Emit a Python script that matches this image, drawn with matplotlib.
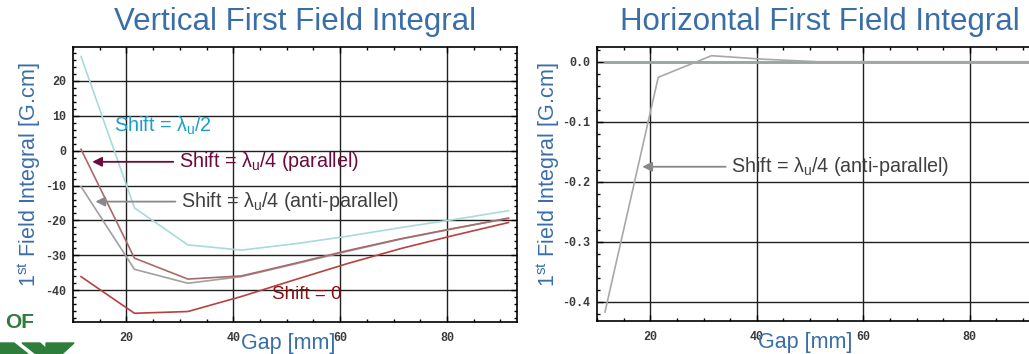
import matplotlib
matplotlib.use("Agg")
import matplotlib.pyplot as plt
from matplotlib import font_manager
from matplotlib.ticker import MultipleLocator, FormatStrFormatter
from matplotlib.patches import Polygon

# gap values [mm]
gap = [11.5, 21.5, 31.5, 41.5, 51.5, 61.5, 71.5, 81.5, 91.5]

# vertical first field integral [G.cm]
v_half = [27.0, -16.4, -27.0, -28.5, -26.7, -24.5, -22.0, -19.7, -17.2]
v_parallel = [0.4, -30.8, -36.8, -35.9, -32.3, -28.6, -25.2, -22.2, -19.4]
v_anti = [-10.3, -34.0, -38.0, -36.1, -32.5, -28.8, -25.3, -22.3, -19.3]
v_zero = [-36.1, -46.6, -46.1, -41.8, -37.0, -32.3, -28.0, -24.2, -20.6]

# horizontal first field integral [G.cm]
h_anti = [-0.417, -0.026, 0.010, 0.004, 0.0, 0.0, 0.0, 0.0, 0.0]
h_others = [0.0, 0.0, 0.0, 0.0, 0.0, 0.0, 0.0, 0.0, 0.0]

installed = {f.name for f in font_manager.fontManager.ttflist}
narrow = "Liberation Sans Narrow" if "Liberation Sans Narrow" in installed else "Liberation Sans"
mono = "Liberation Mono" if "Liberation Mono" in installed else "DejaVu Sans Mono"

plt.rcParams["font.family"] = [narrow, "DejaVu Sans"]
plt.rcParams["mathtext.fontset"] = "custom"
plt.rcParams["mathtext.rm"] = narrow
plt.rcParams["axes.unicode_minus"] = False

blue = "#3a6ea8"
c_half, t_half = "#a8dada", "#1a9ed0"
c_par, t_par = "#a86a6a", "#6b0a3c"
c_anti, t_anti = "#a0a0a0", "#404040"
c_zero, t_zero = "#b84040", "#8b0d0d"
lab_size = 15.5
note_size = 14.2

fig = plt.figure(figsize=(10.29, 3.54), dpi=100)
ax1 = fig.add_axes([73 / 1029, 32 / 354, 444 / 1029, 275 / 354])
ax2 = fig.add_axes([597 / 1029, 33 / 354, 442 / 1029, 274 / 354])


def style(ax, xlab_x):
    ax.set_axisbelow(True)
    ax.grid(True, which="major", color="#202020", lw=1.0)
    ax.xaxis.set_major_locator(MultipleLocator(20))
    ax.xaxis.set_minor_locator(MultipleLocator(5))
    ax.tick_params(which="both", direction="in", top=True, right=True,
                   labelsize=8.5, labelcolor="#3a3a3a")
    ax.tick_params(axis="x", pad=7)
    ax.tick_params(axis="y", pad=5)
    ax.tick_params(which="major", length=4, width=1)
    ax.tick_params(which="minor", length=2.5, width=1)
    for lab in ax.get_xticklabels() + ax.get_yticklabels():
        lab.set_family(mono)
        lab.set_fontweight("bold")
    for s in ax.spines.values():
        s.set_color("black")
        s.set_linewidth(1.2)
    ax.set_xlabel("Gap [mm]", fontsize=lab_size, color=blue)
    ax.xaxis.set_label_coords(xlab_x, -0.04)
    ax.set_ylabel("1$^{\\mathregular{st}}$ Field Integral [G.cm]", fontsize=lab_size, color=blue)


# left: vertical
ax1.plot(gap, v_half, color=c_half, lw=1.2)
ax1.plot(gap, v_anti, color=c_anti, lw=1.2)
ax1.plot(gap, v_parallel, color=c_par, lw=1.2)
ax1.plot(gap, v_zero, color=c_zero, lw=1.2)
ax1.set_xlim(10, 93.1)
ax1.set_ylim(-49.1, 29.7)
ax1.yaxis.set_major_locator(MultipleLocator(10))
ax1.yaxis.set_minor_locator(MultipleLocator(2))
style(ax1, 0.484)
ax1.yaxis.set_label_coords(-0.068, 0.535)

ax1.text(17.6, 7.1, "Shift = λ$_\\mathregular{u}$/2", fontsize=note_size, color=t_half,
         ha="left", va="center")
ax1.annotate("Shift = λ$_\\mathregular{u}$/4 (parallel)", xy=(13.6, -3.2), xytext=(29.8, -3.2),
             fontsize=note_size, color=t_par, ha="left", va="center",
             arrowprops=dict(arrowstyle="-|>", color=t_par, lw=1.3, shrinkA=2, shrinkB=0))
ax1.annotate("Shift = λ$_\\mathregular{u}$/4 (anti-parallel)", xy=(14.2, -14.6), xytext=(30.2, -14.6),
             fontsize=note_size, color=t_anti, ha="left", va="center",
             arrowprops=dict(arrowstyle="-|>", color="#888888", lw=1.3, shrinkA=2, shrinkB=0))
ax1.text(47.3, -41.1, "Shift = 0", fontsize=13.5, color=t_zero, ha="left", va="center")

# right: horizontal
ax2.plot(gap, h_others, color="#9aa4a4", lw=2.0)
ax2.plot(gap, h_anti, color="#a8a8a8", lw=1.2)
ax2.set_xlim(10, 93)
ax2.set_ylim(-0.432, 0.0245)
ax2.yaxis.set_major_locator(MultipleLocator(0.1))
ax2.yaxis.set_minor_locator(MultipleLocator(0.02))
ax2.yaxis.set_major_formatter(FormatStrFormatter("%.1f"))
style(ax2, 0.47)
ax2.yaxis.set_label_coords(-0.080, 0.535)
ax2.annotate("Shift = λ$_\\mathregular{u}$/4 (anti-parallel)", xy=(18.5, -0.175), xytext=(35.2, -0.175),
             fontsize=note_size, color=t_anti, ha="left", va="center",
             arrowprops=dict(arrowstyle="-|>", color="#888888", lw=1.3, shrinkA=2, shrinkB=0))

# titles, placed by figure pixel position
fig.text(295, 354 - 22, "Vertical First Field Integral", transform=None,
         fontsize=22.5, color=blue, ha="center", va="center")
fig.text(820, 354 - 22, "Horizontal First Field Integral", transform=None,
         fontsize=22.5, color=blue, ha="center", va="center")

# cut-off logo in the lower left corner
green = "#2e7d3a"
fig.text(5, 354 - 322, "OF", transform=None, fontsize=15, fontweight="bold",
         color=green, family="Liberation Sans", va="center", ha="left")
fig.patches.append(Polygon([[0, 11], [14, 11], [28, 0], [0, 0]], closed=True,
                           transform=None, color=green, figure=fig))
fig.patches.append(Polygon([[22, 11], [40, 11], [52, 0], [36, 0]], closed=True,
                           transform=None, color=green, figure=fig))
fig.patches.append(Polygon([[46, 11], [74, 11], [62, 0], [46, 0]], closed=True,
                           transform=None, color=green, figure=fig))

fig.savefig("out.png", dpi=100)
